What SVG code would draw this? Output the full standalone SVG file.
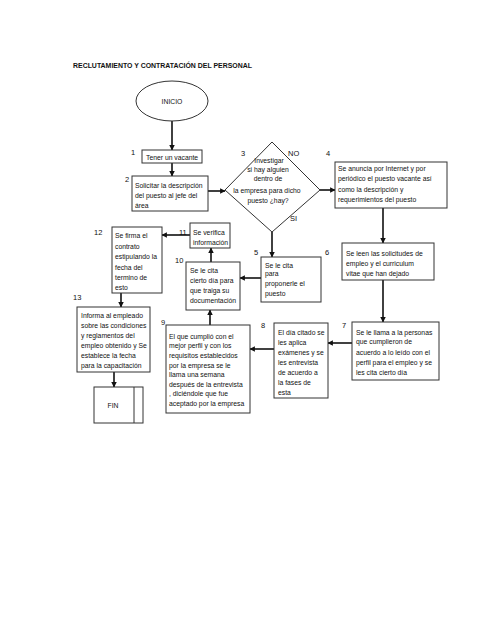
<svg xmlns="http://www.w3.org/2000/svg" width="495" height="640" viewBox="0 0 495 640">
<style>
text{font-family:"Liberation Sans",Arial,sans-serif;font-size:6.8px;fill:#111}
.t{font-weight:bold;font-size:7.5px}
.n{font-size:7.5px}
.b{fill:#fff;stroke:#333;stroke-width:1}
.c{stroke:#111;stroke-width:1.6;fill:none;marker-end:url(#ah)}
</style>
<defs>
<marker id="ah" viewBox="0 0 10 10" refX="9" refY="5" markerWidth="3.4" markerHeight="3.4" orient="auto" markerUnits="strokeWidth">
<path d="M0,0 L10,5 L0,10 z" fill="#111"/>
</marker>
</defs>
<rect width="495" height="640" fill="#fff"/>
<text class="t" x="73" y="68" textLength="179" lengthAdjust="spacingAndGlyphs">RECLUTAMIENTO Y CONTRATACIÓN DEL PERSONAL</text>

<g id="connectors">
<line class="c" x1="172" y1="121" x2="172" y2="150"/>
<line class="c" x1="172" y1="163" x2="172" y2="176"/>
<line class="c" x1="208" y1="191" x2="225" y2="191"/>
<line class="c" x1="320" y1="190" x2="335" y2="190"/>
<line class="c" x1="272" y1="232" x2="272" y2="257"/>
<line class="c" x1="383" y1="208" x2="383" y2="243"/>
<line class="c" x1="383" y1="280" x2="383" y2="322"/>
<line class="c" x1="352" y1="343" x2="328" y2="343"/>
<line class="c" x1="274" y1="349" x2="250" y2="349"/>
<line class="c" x1="210" y1="325" x2="210" y2="310"/>
<line class="c" x1="261" y1="278" x2="240" y2="278"/>
<line class="c" x1="211" y1="262" x2="211" y2="248"/>
<line class="c" x1="190" y1="235" x2="162" y2="235"/>
<line class="c" x1="121" y1="293" x2="121" y2="307"/>
<line class="c" x1="114" y1="372" x2="114" y2="387"/>
</g>

<g id="inicio">
<ellipse class="b" cx="172" cy="101" rx="36" ry="20"/>
<text x="172" y="104" text-anchor="middle">INICIO</text>
</g>

<g id="n1">
<text class="n" x="131" y="155">1</text>
<rect class="b" x="142" y="150" width="60" height="13"/>
<text x="146" y="159.5">Tener un vacante</text>
</g>

<g id="n2">
<text class="n" x="125" y="182">2</text>
<rect class="b" x="132" y="176" width="76" height="35"/>
<text x="135" y="187.5">Solicitar la descripción</text>
<text x="135" y="197.5">del puesto al jefe del</text>
<text x="135" y="207.5">área</text>
</g>

<g id="n3">
<polygon class="b" points="272,142 320,190 272,232 225,190"/>
<text class="n" x="241" y="156">3</text>
<text class="n" x="288" y="156">NO</text>
<text class="n" x="290" y="221">SI</text>
<text x="269" y="162.5" text-anchor="middle">Investigar</text>
<text x="268" y="171.5" text-anchor="middle">si hay alguien</text>
<text x="268" y="180.5" text-anchor="middle">dentro de</text>
<text x="267" y="192.5" text-anchor="middle">la empresa  para dicho</text>
<text x="268" y="202.5" text-anchor="middle">puesto ¿hay?</text>
</g>

<g id="n4">
<text class="n" x="326" y="156">4</text>
<rect class="b" x="335" y="162" width="112" height="46"/>
<text x="338" y="171">Se anuncia por Internet y por</text>
<text x="338" y="181">periódico el puesto vacante así</text>
<text x="338" y="191.5">como la descripción y</text>
<text x="338" y="202">requerimientos del puesto</text>
</g>

<g id="n5">
<text class="n" x="254" y="255">5</text>
<rect class="b" x="261" y="257" width="60" height="45"/>
<text x="265" y="267.5">Se le cita</text>
<text x="265" y="276">para</text>
<text x="265" y="285.5">proponerle el</text>
<text x="265" y="295.5">puesto</text>
</g>

<g id="n6">
<text class="n" x="325" y="255">6</text>
<rect class="b" x="342" y="243" width="92" height="37"/>
<text x="346" y="255.5">Se leen las solicitudes de</text>
<text x="346" y="265.5">empleo y el curriculum</text>
<text x="346" y="275.5">vitae que han dejado</text>
</g>

<g id="n7">
<text class="n" x="342" y="328">7</text>
<rect class="b" x="352" y="322" width="87" height="58"/>
<text x="356" y="334.5">Se le llama a la personas</text>
<text x="356" y="344">que cumplieron de</text>
<text x="356" y="355">acuerdo a lo leído con el</text>
<text x="356" y="364.5">perfil para el empleo y se</text>
<text x="356" y="374.5">les cita  cierto día</text>
</g>

<g id="n8">
<text class="n" x="261" y="328">8</text>
<rect class="b" x="274" y="323" width="54" height="75"/>
<text x="278" y="334.5">El día citado se</text>
<text x="278" y="344.5">les aplica</text>
<text x="278" y="354.5">exámenes y se</text>
<text x="278" y="364.5">les entrevista</text>
<text x="278" y="374.5">de acuerdo a</text>
<text x="278" y="384.5">la fases de</text>
<text x="278" y="394.5">esta</text>
</g>

<g id="n9">
<text class="n" x="161" y="325">9</text>
<rect class="b" x="166" y="325" width="84" height="88"/>
<text x="169" y="338.5">El que cumplió con el</text>
<text x="169" y="348">mejor perfil  y con los</text>
<text x="169" y="357.5">requisitos establecidos</text>
<text x="169" y="367.5">por la empresa se le</text>
<text x="169" y="377">llama una semana</text>
<text x="169" y="386.5">después de la entrevista</text>
<text x="169" y="396">, diciéndole que fue</text>
<text x="169" y="406">aceptado por la empresa</text>
</g>

<g id="n10">
<text class="n" x="175" y="263">10</text>
<rect class="b" x="186" y="262" width="54" height="48"/>
<text x="190" y="272.5">Se le cita</text>
<text x="190" y="282.5">cierto día para</text>
<text x="190" y="293">que traiga su</text>
<text x="190" y="303">documentación</text>
</g>

<g id="n11">
<text class="n" x="179" y="235">11</text>
<rect class="b" x="190" y="223" width="40" height="25"/>
<text x="193" y="234.5">Se verifica</text>
<text x="193" y="244.5">información</text>
</g>

<g id="n12">
<text class="n" x="94" y="235">12</text>
<rect class="b" x="112" y="227" width="50" height="66"/>
<text x="115" y="237.5">Se firma el</text>
<text x="115" y="248.5">contrato</text>
<text x="115" y="258.5">estipulando la</text>
<text x="115" y="269.5">fecha del</text>
<text x="115" y="279.5">termino de</text>
<text x="115" y="289.5">esto</text>
</g>

<g id="n13">
<text class="n" x="73" y="300">13</text>
<rect class="b" x="77" y="307" width="73" height="65"/>
<text x="81" y="317.5">Informa al empleado</text>
<text x="81" y="327.5">sobre las condiciones</text>
<text x="81" y="337.5">y reglamentos del</text>
<text x="81" y="347.5">empleo obtenido y Se</text>
<text x="81" y="358">establece la fecha</text>
<text x="81" y="367.5">para la capacitación</text>
</g>

<g id="fin">
<rect class="b" x="94" y="387" width="49" height="36"/>
<line x1="134" y1="387" x2="134" y2="423" stroke="#333" stroke-width="1"/>
<text x="113" y="408" text-anchor="middle">FIN</text>
</g>
</svg>
